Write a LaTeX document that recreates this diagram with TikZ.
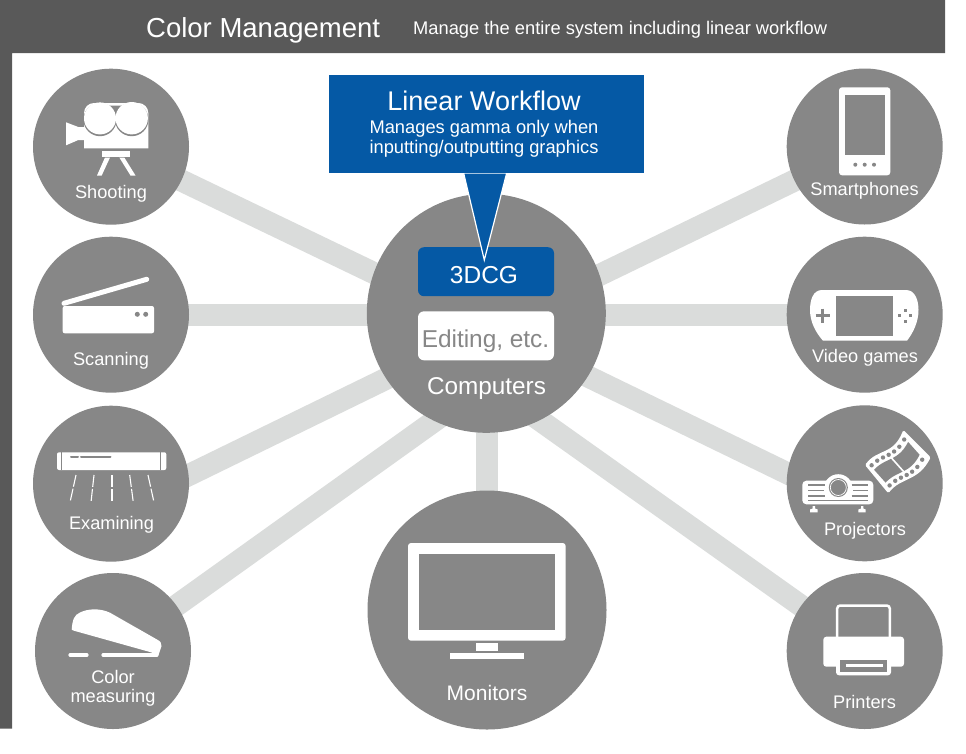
\documentclass[tikz,border=0pt]{standalone}
\usepackage{fontspec}
\setmainfont{Liberation Sans}
\usetikzlibrary{backgrounds}
\definecolor{disc}{HTML}{878787}
\definecolor{band}{HTML}{595959}
\definecolor{linkc}{HTML}{DADCDB}
\definecolor{blue1}{HTML}{0559A5}
\newcommand{\fs}[1]{\fontsize{#1}{#1}\selectfont}
\tikzset{
  small/.style={circle,fill=disc,minimum size=156pt,inner sep=0pt},
  big/.style={circle,fill=disc,minimum size=239pt,inner sep=0pt},
  link/.style={draw=linkc,line width=22pt},
  lbl/.style={text=white,anchor=base,inner sep=0pt,font=\fs{18.2},align=center},
  declare function={
    bx(\s)=(1-\s)^3*865+3*(1-\s)^2*\s*878+3*(1-\s)*\s^2*893+\s^3*903.3;
    by(\s)=(1-\s)^3*465+3*(1-\s)^2*\s*448+3*(1-\s)*\s^2*456+\s^3*430;
  }
}
\begin{document}
\begin{tikzpicture}[x=1pt,y=-1pt]
\useasboundingbox (0,0) rectangle (966,753);
% frame
\fill[band] (0,0) -- (945,0) -- (945,53) -- (12,53) -- (12,728.7) -- (0,728.7) -- cycle;
\node[text=white,anchor=base west,inner sep=0pt,font=\fs{27.5}] (title) at (146,37) {Color Management};
\node[text=white,anchor=base west,inner sep=0pt,font=\fs{18.3}] (subtitle) at (413,34) {Manage the entire system including linear workflow};
% discs
\node[small] (shoot) at (111,146.7) {};
\node[small] (scan) at (111,314.7) {};
\node[small] (exam) at (111,483.7) {};
\node[small] (meas) at (113,651) {};
\node[small] (phone) at (864.7,146.5) {};
\node[small] (game) at (864.7,314.7) {};
\node[small] (proj) at (864.7,483.3) {};
\node[small] (print) at (864.7,651) {};
\node[big] (comp) at (486.3,313.3) {};
\node[big] (mon) at (487,610) {};
% connectors
\coordinate (hubA) at (486,327);
\coordinate (hubB) at (486,330);
\coordinate (hubC) at (486,384);
\coordinate (hubD) at (486,382);
\coordinate (exEnd) at (111,513);
\coordinate (prEnd) at (865,511);
\begin{scope}[on background layer]
\fill[white] (0,0) rectangle (966,753);
\draw[link] (shoot.center) -- (hubA);
\draw[link] (scan.center) -- (comp.center |- scan.center);
\draw[link] (exEnd) -- (hubB);
\draw[link] (meas.center) -- (hubC);
\draw[link] (phone.center) -- (hubB);
\draw[link] (game.center) -- (comp.center |- game.center);
\draw[link] (prEnd) -- (hubA);
\draw[link] (print.center) -- (hubD);
\draw[link] (comp.center -| mon.center) -- (mon.center);
\end{scope}
% computer boxes
\node[fill=blue1,rounded corners=6pt,minimum width=136pt,minimum height=49pt,inner sep=0pt] (cg) at (486,271.7) {};
\node[text=white,anchor=base,inner sep=0pt,font=\fs{24.5}] (cgt) at (484,283) {3DCG};
\node[fill=white,rounded corners=6pt,minimum width=136pt,minimum height=49pt,inner sep=0pt] (edit) at (486,335.8) {};
\node[text=disc,anchor=base,inner sep=0pt,font=\fs{24.4}] (editt) at (485.5,347) {Editing, etc.};
\node[text=white,anchor=base,inner sep=0pt,font=\fs{24.3}] (compt) at (486.5,394) {Computers};
% callout
\fill[blue1,draw=white,line width=1.2pt] (463.6,173) -- (484.3,260) -- (506.7,173) -- cycle;
\node[fill=blue1,minimum width=315pt,minimum height=98pt,inner sep=0pt] (call) at (486.5,124) {};
\node[text=white,anchor=base,inner sep=0pt,font=\fs{27}] (calltitle) at (484,110) {Linear Workflow};
\node[text=white,anchor=base,inner sep=0pt,font=\fontsize{18.3}{20}\selectfont,align=center] (calltext) at (484,153) {Manages gamma only when\\inputting/outputting graphics};
% labels
\node[lbl] (l1) at (111,198) {Shooting};
\node[lbl] (l2) at (111,365) {Scanning};
\node[lbl] (l3) at (111.5,529) {Examining};
\node[lbl,font=\fontsize{18.2}{19.7}\selectfont] (l4) at (113,702.7) {Color\\measuring};
\node[lbl] (l5) at (864.5,195) {Smartphones};
\node[lbl] (l6) at (865,362) {Video games};
\node[lbl] (l7) at (865,535) {Projectors};
\node[lbl] (l8) at (864.5,708) {Printers};
\node[lbl,font=\fs{21}] (l9) at (487,700) {Monitors};
% --- camera
\fill[white] (84,148.3) -- (84,113) arc[start angle=180,end angle=270,radius=10] -- (138.3,103) arc[start angle=270,end angle=360,radius=10] -- (148.3,148.3) -- cycle;
\fill[disc] (108,105.7) -- (127,105.7) -- (117.3,124) -- cycle;
\fill[disc] (100,119.6) circle[radius=16.6];
\fill[disc] (131.7,119.4) circle[radius=16.8];
\fill[white] (100,118.4) circle[radius=16];
\fill[white] (131.7,118.2) circle[radius=16.2];
\fill[white] (66,122.3) -- (78.3,127) -- (84,127) -- (84,140) -- (78.3,140) -- (66,145.3) -- cycle;
\fill[white] (102.3,151) rectangle (130,157);
\fill[white] (105,157.5) -- (110,157.5) -- (101.7,175.5) -- (97,175.5) -- cycle;
\fill[white] (119.3,157.5) -- (124.3,157.5) -- (135.5,175.5) -- (130.5,175.5) -- cycle;
% --- scanner
\fill[white,rounded corners=2pt] (62.7,306) rectangle (154,333.3);
\fill[disc] (137.3,314.3) circle[radius=2.5];
\fill[disc] (145.7,314.3) circle[radius=2.5];
\draw[white,line width=5pt,line cap=round] (64,303.3) -- (146.7,279.3);
% --- inspection bar
\fill[white,rounded corners=2pt] (57,452.3) rectangle (166.3,470);
\draw[disc,line width=.8pt] (61.7,452.3) -- (61.7,470) (160.7,452.3) -- (160.7,470);
\draw[disc,line width=2pt,line cap=round] (71,457) -- (78,457) (81,457) -- (110.5,457);
\begin{scope}[white,line width=1.1pt,dash pattern=on 12pt off 2pt]
\draw (76,475) -- (70,502.3);
\draw (94,475) -- (91,502.3);
\draw (112,475) -- (112,502.3);
\draw (129.7,475) -- (133.3,502.3);
\draw (148,475) -- (154,502.3);
\end{scope}
% --- colorimeter
\fill[white] (71.7,629.3) .. controls (72.5,620) and (74,615) .. (80,612.5) .. controls (88,608.5) and (100,608) .. (110,612.7) -- (157,639.5) .. controls (160,641) and (162,643) .. (161.5,646) -- (158.5,655) -- (150,652) -- (75,631) .. controls (73,630.5) and (72,630) .. (71.7,629.3) -- cycle;
\draw[white,line width=3.2pt,line cap=round] (70,655) -- (87,655) (103,655) -- (157,655);
% --- phone
\fill[white,rounded corners=3pt] (839,87.3) rectangle (890.3,175.3);
\fill[disc] (844.7,95.3) rectangle (884.7,155);
\foreach \px in {855.3,864.7,874} \fill[disc] (\px,164.7) circle[radius=2];
% --- handheld
\fill[white] (822,290) -- (906,290) .. controls (915,290) and (918.5,300) .. (918.5,310) .. controls (918.5,322) and (913,333) .. (907,340.7) -- (823,340.7) .. controls (816,333) and (810,322) .. (810,310) .. controls (810,300) and (813,290) .. (822,290) -- cycle;
\fill[disc] (835.7,296.3) rectangle (893,335.7);
\draw[disc,line width=2.5pt] (815.7,315.7) -- (829.7,315.7) (822.7,308.7) -- (822.7,322.7);
\foreach \dx/\dy in {-5.5/0,5.5/0,0/-5.5,0/5.5} \fill[disc] (905.3+\dx-1.5,315.7+\dy-1.5) rectangle +(3,3);
% --- projector
\fill[white,rounded corners=4pt] (802.3,480.7) rectangle (873.3,504.3);
\fill[white] (838.3,488.7) circle[radius=14.5];
\fill[disc] (838.3,487.5) circle[radius=9.5];
\draw[white,line width=.7pt] (838.3,487.5) circle[radius=8];
\draw[disc,line width=1.5pt] (808.3,485) -- (825,485) (808.3,490.7) -- (823.5,490.7) (808.3,496) -- (825,496) (851.7,485) -- (867.7,485) (853,490.7) -- (867.7,490.7) (851.7,496) -- (867.7,496);
\draw[disc,line width=.8pt] (808,500.5) -- (868,500.5);
\fill[white] (810,512.3) -- (810,509.5) -- (812.7,508.5) -- (812.7,506) -- (815,506) -- (815,508.5) -- (817.7,509.5) -- (817.7,512.3) -- cycle;
\fill[white] (858.3,512.3) -- (858.3,509.5) -- (861,508.5) -- (861,506) -- (863.3,506) -- (863.3,508.5) -- (865.7,509.5) -- (865.7,512.3) -- cycle;
% --- film
\fill[white,rounded corners=1.5pt] (865,465) .. controls (878,448) and (893,456) .. (903.3,430) -- (930.7,457.3) .. controls (918,482) and (901,477) .. (888.3,493.3) -- cycle;
\fill[disc] plot[variable=\s,domain=.06:.94,samples=20,smooth] ({bx(\s)+25*.27},{by(\s)+28*.27}) -- plot[variable=\s,domain=.94:.06,samples=20,smooth] ({bx(\s)+25*.73},{by(\s)+28*.73}) -- cycle;
\draw[white,line width=1.6pt] ({bx(.5)+25*.25},{by(.5)+28*.25}) -- ({bx(.5)+25*.75},{by(.5)+28*.75});
\foreach \s in {.08,.22,.36,.5,.64,.78,.92} {
  \fill[disc] ({bx(\s)+25*.14},{by(\s)+28*.14}) circle[radius=2.2];
  \fill[disc] ({bx(\s)+25*.86},{by(\s)+28*.86}) circle[radius=2.2];
}
% --- printer
\draw[white,line width=2.5pt,rounded corners=3pt] (837.2,640) -- (837.2,605.5) -- (889.8,605.5) -- (889.8,640);
\fill[white,rounded corners=3pt] (823.3,636.7) rectangle (904,666.7);
\fill[white,rounded corners=3pt] (836,655) rectangle (891,675.3);
\fill[disc] (840,660) rectangle (887.3,671.7);
\fill[white] (846,664) rectangle (882.7,667.3);
% --- monitor
\fill[white,rounded corners=3pt] (408,543) rectangle (565.7,640.7);
\fill[disc] (418.7,553.7) rectangle (555,629.7);
\fill[white] (476,642.7) rectangle (498,651);
\fill[white] (450,653.3) rectangle (524,659);
\end{tikzpicture}
\end{document}
